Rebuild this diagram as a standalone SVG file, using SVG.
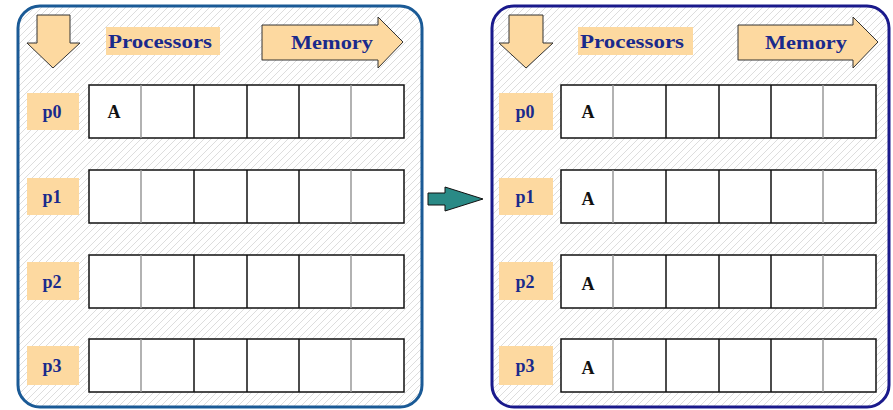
<svg xmlns="http://www.w3.org/2000/svg" width="893" height="410" viewBox="0 0 893 410">
<style>
.lbl{fill:#fdd9a0}
.arr{fill:#fdd9a0;stroke:#333;stroke-width:1}
.t{font-family:"Liberation Serif","DejaVu Serif",serif;font-weight:bold;fill:#1a2a8c;font-size:18px}
.row{fill:#fff;stroke:#111;stroke-width:1.5}
.dk{stroke:#111;stroke-width:1.5}
.lt{stroke:#999;stroke-width:1.5}
.a{font-family:"Liberation Serif","DejaVu Serif",serif;font-weight:bold;font-size:18px;fill:#111}
</style>
<defs>
<pattern id="h" patternUnits="userSpaceOnUse" width="7" height="7">
<path d="M-1,8 L8,-1 M-1,1 L1,-1 M6,8 L8,6" stroke="#d4d4d4" stroke-width="0.8"/>
</pattern>
<g id="rowcells">
<rect class="row" x="0" y="0" width="315" height="53"/>
<line class="lt" x1="52" y1="0" x2="52" y2="53"/>
<line class="dk" x1="105" y1="0" x2="105" y2="53"/>
<line class="dk" x1="158" y1="0" x2="158" y2="53"/>
<line class="dk" x1="210" y1="0" x2="210" y2="53"/>
<line class="lt" x1="262" y1="0" x2="262" y2="53"/>
</g>
</defs>
<rect width="893" height="410" fill="#fff"/>

<g id="left-panel">
<rect x="18" y="6" width="404" height="401" rx="22" fill="#fff"/>
<rect x="18" y="6" width="404" height="401" rx="22" fill="url(#h)" stroke="#1a5a96" stroke-width="3"/>
<path class="arr" d="M37,15 H70 V43 H80 L53,68 L27,43 H37 Z"/>
<rect class="lbl" x="106" y="27" width="114" height="28"/>
<text class="t" x="108" y="48" textLength="104" lengthAdjust="spacingAndGlyphs">Processors</text>
<path class="arr" d="M262,25 H378 V17 L403,42 L378,68 V60 H262 Z"/>
<text class="t" x="291" y="49" textLength="82" lengthAdjust="spacingAndGlyphs">Memory</text>
<g id="L-p0"><rect class="lbl" x="27" y="93" width="52" height="37"/><text class="t" x="52" y="118" text-anchor="middle">p0</text>
<use href="#rowcells" x="89" y="85"/><text class="a" x="114" y="118" text-anchor="middle">A</text></g>
<g id="L-p1"><rect class="lbl" x="27" y="178" width="52" height="37"/><text class="t" x="52" y="203" text-anchor="middle">p1</text>
<use href="#rowcells" x="89" y="170"/></g>
<g id="L-p2"><rect class="lbl" x="27" y="262" width="52" height="38"/><text class="t" x="52" y="288" text-anchor="middle">p2</text>
<use href="#rowcells" x="89" y="255"/></g>
<g id="L-p3"><rect class="lbl" x="27" y="346" width="52" height="39"/><text class="t" x="52" y="372" text-anchor="middle">p3</text>
<use href="#rowcells" x="89" y="339"/></g>
</g>

<g id="connectors">
<path d="M428,193 H445 V187 L483,199 L445,211 V205 H428 Z" fill="#2a8a86" stroke="#111" stroke-width="1"/>
</g>

<g id="right-panel">
<rect x="492" y="6" width="397" height="401" rx="22" fill="#fff"/>
<rect x="492" y="6" width="397" height="401" rx="22" fill="url(#h)" stroke="#1a1a8c" stroke-width="3"/>
<path class="arr" d="M509,15 H543 V43 H553 L526,68 L499,43 H509 Z"/>
<rect class="lbl" x="578" y="27" width="115" height="28"/>
<text class="t" x="580" y="48" textLength="104" lengthAdjust="spacingAndGlyphs">Processors</text>
<path class="arr" d="M738,25 H853 V17 L878,42 L853,68 V60 H738 Z"/>
<text class="t" x="765" y="49" textLength="82" lengthAdjust="spacingAndGlyphs">Memory</text>
<g id="R-p0"><rect class="lbl" x="499" y="93" width="54" height="37"/><text class="t" x="525" y="118" text-anchor="middle">p0</text>
<use href="#rowcells" x="561" y="85"/><text class="a" x="588" y="118" text-anchor="middle">A</text></g>
<g id="R-p1"><rect class="lbl" x="499" y="178" width="54" height="37"/><text class="t" x="525" y="203" text-anchor="middle">p1</text>
<use href="#rowcells" x="561" y="170"/><text class="a" x="588" y="205" text-anchor="middle">A</text></g>
<g id="R-p2"><rect class="lbl" x="499" y="262" width="54" height="38"/><text class="t" x="525" y="288" text-anchor="middle">p2</text>
<use href="#rowcells" x="561" y="255"/><text class="a" x="588" y="290" text-anchor="middle">A</text></g>
<g id="R-p3"><rect class="lbl" x="499" y="346" width="54" height="39"/><text class="t" x="525" y="372" text-anchor="middle">p3</text>
<use href="#rowcells" x="561" y="339"/><text class="a" x="588" y="374" text-anchor="middle">A</text></g>
</g>
</svg>
